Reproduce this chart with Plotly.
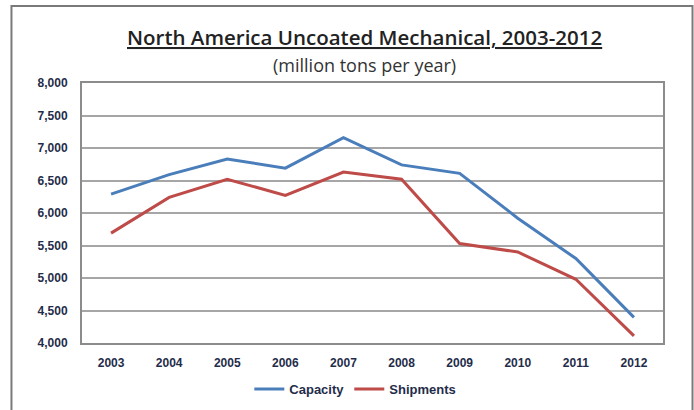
import plotly.graph_objects as go

years = ["2003", "2004", "2005", "2006", "2007", "2008", "2009", "2010", "2011", "2012"]
capacity = [6290, 6590, 6830, 6690, 7160, 6740, 6610, 5920, 5300, 4395]
shipments = [5690, 6240, 6520, 6270, 6630, 6520, 5530, 5400, 4980, 4110]

tick_font = dict(family="Liberation Sans", size=12, color="#1f2d4a", weight="bold")

fig = go.Figure()
fig.add_trace(go.Scatter(x=years, y=capacity, name="Capacity", mode="lines",
                         line=dict(color="#4a7ebb", width=3)))
fig.add_trace(go.Scatter(x=years, y=shipments, name="Shipments", mode="lines",
                         line=dict(color="#be4b48", width=3)))

# title block
fig.add_annotation(text="<u>North America Uncoated Mechanical, 2003-2012</u>",
                   xref="paper", yref="paper", x=0.487, y=1.177, showarrow=False,
                   font=dict(family="Open Sans", size=20.5, color="#222222", weight=600),
                   yanchor="middle")
fig.add_annotation(text="(million tons per year)",
                   xref="paper", yref="paper", x=0.487, y=1.069, showarrow=False,
                   font=dict(family="Open Sans", size=18, color="#333333"),
                   yanchor="middle")

# outer frame (open at the bottom edge of the picture)
fig.add_shape(type="rect", xref="paper", yref="paper",
              x0=-0.1214, x1=1.0508, y0=-0.45, y1=1.296,
              line=dict(color="#7a7a7a", width=2), layer="below")

fig.update_layout(
    width=694, height=410,
    margin=dict(l=82, r=31, t=83, b=67, autoexpand=False),
    paper_bgcolor="white", plot_bgcolor="white",
    showlegend=True,
    legend=dict(orientation="h", xref="container", yref="container",
                x=0.512, xanchor="center", y=0.051, yanchor="middle",
                font=dict(family="Liberation Sans", size=13, color="#1f2d4a", weight="bold"),
                itemwidth=30, tracegroupgap=0),
)
fig.update_xaxes(type="category", range=[-0.5, 9.5], showgrid=False,
                 showline=True, linecolor="#8c8c8c", linewidth=2, mirror=True,
                 tickfont=tick_font, ticks="", ticklabelstandoff=8)
fig.update_yaxes(range=[4000, 8000], dtick=500, tickformat=",",
                 showgrid=True, gridcolor="#a6a6a6", gridwidth=1.5,
                 showline=True, linecolor="#8c8c8c", linewidth=2, mirror=True,
                 tickfont=tick_font, ticks="", ticklabelstandoff=10, zeroline=False)

# the page body has a default 8px margin; drop it so the figure sits at the window corner
fig.write_html("out.html", config={"displayModeBar": False},
               post_script="document.body.style.margin='0px';")
